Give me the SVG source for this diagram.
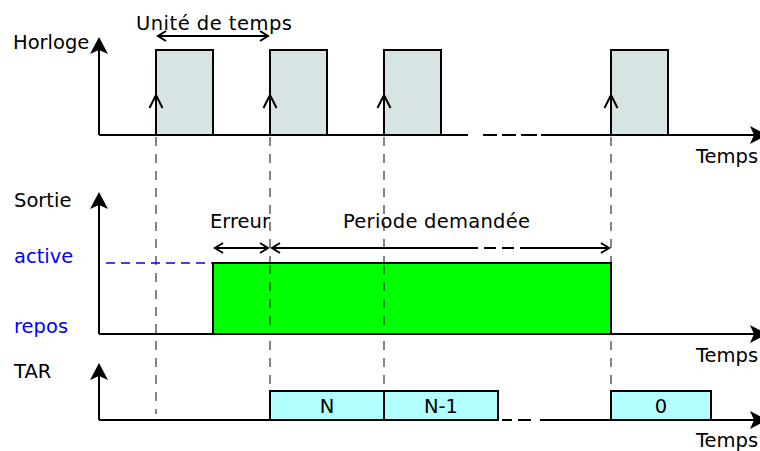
<svg xmlns="http://www.w3.org/2000/svg" width="760" height="451" viewBox="0 0 760 451">
<defs>
<style>
text{font-family:"DejaVu Sans","Liberation Sans",sans-serif;font-size:19.5px;fill:#000}
.blue{fill:#0000ff}
.axis{stroke:#000;stroke-width:2;fill:none}
.guide{stroke:#222;stroke-width:1.1;stroke-dasharray:9 8;fill:none}
.clk{fill:#d8e4e4;stroke:#000;stroke-width:2}
.tar{fill:#b3ffff;stroke:#000;stroke-width:2}
.dim{stroke:#000;stroke-width:2;fill:none}
.chev{stroke:#000;stroke-width:2;fill:none}
.ah{fill:#000;stroke:none}
.ctr{text-anchor:middle}
</style>
<marker id="open" viewBox="-10 -6 12 12" markerWidth="12" markerHeight="12" refX="0" refY="0" orient="auto-start-reverse" markerUnits="userSpaceOnUse">
<path d="M-8,-5 L0,0 L-8,5" fill="none" stroke="#000" stroke-width="2"/>
</marker>
</defs>

<g id="guides">
<line class="guide" x1="156" y1="137" x2="156" y2="414"/>
<line class="guide" x1="270" y1="137" x2="270" y2="391"/>
<line class="guide" x1="384" y1="137" x2="384" y2="391"/>
<line class="guide" x1="611" y1="137" x2="611" y2="391"/>
</g>

<g id="clock">
<text x="13" y="49">Horloge</text>
<rect class="clk" x="156" y="50" width="57" height="85"/>
<rect class="clk" x="270" y="50" width="57" height="85"/>
<rect class="clk" x="384" y="50" width="57" height="85"/>
<rect class="clk" x="611" y="50" width="57" height="85"/>
<path class="chev" d="M149.5,108 L156,95 L162.5,108 M263.5,108 L270,95 L276.5,108 M377.5,108 L384,95 L390.5,108 M604.5,108 L611,95 L617.5,108"/>
<text x="136" y="30" textLength="156" lengthAdjust="spacing">Unité de temps</text>
<line class="dim" x1="158" y1="36" x2="268" y2="36" marker-start="url(#open)" marker-end="url(#open)"/>
<path class="axis" d="M99,135 V48 M99,135 H468 M483,135 H497 M502,135 H516 M521,135 H537 M541,135 H758"/>
<path class="ah" d="M99,37 L108,54 L99,50 L90,54 Z"/>
<path class="ah" d="M767,135 L750,126 L754,135 L750,144 Z"/>
<text x="696" y="163">Temps</text>
</g>

<g id="sortie">
<text x="14" y="207">Sortie</text>
<text class="blue" x="14" y="263">active</text>
<text class="blue" x="14" y="333">repos</text>
<line x1="106" y1="263" x2="213" y2="263" stroke="#0000ff" stroke-width="1.4" stroke-dasharray="9 6"/>
<path class="axis" d="M99,334 V203 M99,334 H758"/>
<path class="ah" d="M99,192 L108,209 L99,205 L90,209 Z"/>
<path class="ah" d="M767,334 L750,325 L754,334 L750,343 Z"/>
<rect x="213" y="263" width="398" height="71" fill="#00ff00" stroke="#000" stroke-width="2"/>
<line class="guide" x1="270" y1="265" x2="270" y2="333"/>
<line class="guide" x1="384" y1="265" x2="384" y2="333"/>
<text x="696" y="362">Temps</text>
</g>

<g id="labels">
<text x="210" y="228">Erreur</text>
<text x="343" y="228" textLength="187" lengthAdjust="spacing">Periode demandée</text>
<line class="dim" x1="215" y1="248" x2="268" y2="248" marker-start="url(#open)" marker-end="url(#open)"/>
<line class="dim" x1="272" y1="248" x2="478" y2="248" marker-start="url(#open)"/>
<path class="dim" d="M484,248 H496 M502,248 H514"/>
<line class="dim" x1="520" y1="248" x2="609" y2="248" marker-end="url(#open)"/>
</g>

<g id="tar">
<text x="14" y="378">TAR</text>
<path class="axis" d="M99,420 V374 M99,420 H498 M502,420 H512 M518,420 H531 M540,420 H758"/>
<path class="ah" d="M99,363 L108,380 L99,376 L90,380 Z"/>
<path class="ah" d="M767,420 L750,411 L754,420 L750,429 Z"/>
<rect class="tar" x="270" y="391" width="114" height="29"/>
<rect class="tar" x="384" y="391" width="114" height="29"/>
<rect class="tar" x="611" y="391" width="100" height="29"/>
<text class="ctr" x="327" y="413">N</text>
<text class="ctr" x="441" y="413">N-1</text>
<text class="ctr" x="661" y="413">0</text>
<text x="696" y="447">Temps</text>
</g>
</svg>
